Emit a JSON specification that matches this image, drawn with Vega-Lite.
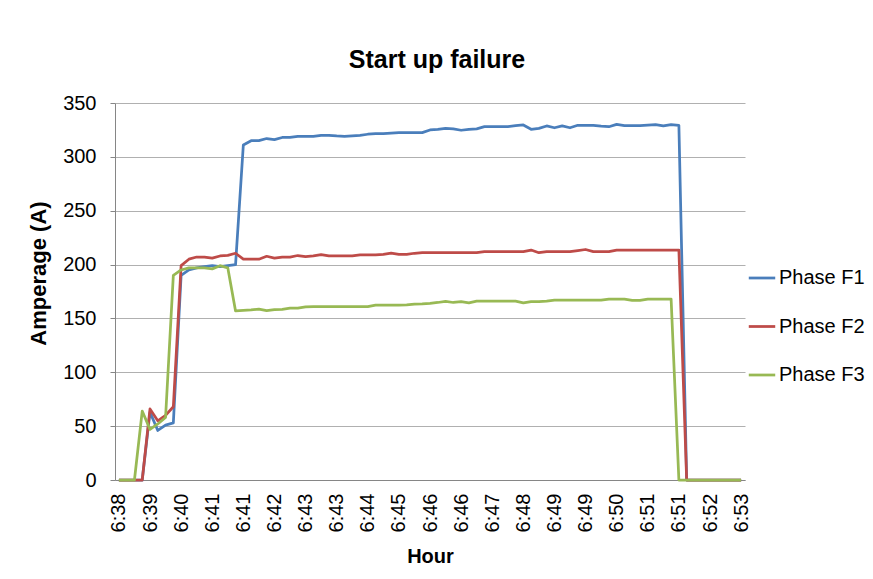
{
  "$schema": "https://vega.github.io/schema/vega-lite/v6.json",
  "autosize": "none",
  "width": 630,
  "height": 377,
  "padding": {"left": 115, "top": 103, "right": 128, "bottom": 99},
  "background": "white",
  "title": {"text": "Start up failure", "fontSize": 25, "font": "Liberation Sans", "fontWeight": "bold", "color": "black", "offset": 20, "dx": 7},
  "config": {
    "view": {"stroke": null},
    "font": "Liberation Sans",
    "axis": {"labelFont": "Liberation Sans", "titleFont": "Liberation Sans", "labelColor": "black", "titleColor": "black", "domainColor": "#868686", "tickColor": "#868686", "gridColor": "#b0b0b0"}
  },
  "data": {"values": [
    {"i": 0, "Phase F1": 0, "Phase F2": 0, "Phase F3": 0},
    {"i": 1, "Phase F1": 0, "Phase F2": 0, "Phase F3": 0},
    {"i": 2, "Phase F1": 0, "Phase F2": 0, "Phase F3": 0},
    {"i": 3, "Phase F1": 0, "Phase F2": 0, "Phase F3": 64},
    {"i": 4, "Phase F1": 63, "Phase F2": 66, "Phase F3": 47},
    {"i": 5, "Phase F1": 46, "Phase F2": 55, "Phase F3": 52},
    {"i": 6, "Phase F1": 51, "Phase F2": 60, "Phase F3": 58},
    {"i": 7, "Phase F1": 53, "Phase F2": 68, "Phase F3": 190},
    {"i": 8, "Phase F1": 190, "Phase F2": 199, "Phase F3": 195},
    {"i": 9, "Phase F1": 195, "Phase F2": 205, "Phase F3": 197},
    {"i": 10, "Phase F1": 197, "Phase F2": 207, "Phase F3": 197},
    {"i": 11, "Phase F1": 198, "Phase F2": 207, "Phase F3": 197},
    {"i": 12, "Phase F1": 199, "Phase F2": 206, "Phase F3": 196},
    {"i": 13, "Phase F1": 198, "Phase F2": 208, "Phase F3": 199},
    {"i": 14, "Phase F1": 199, "Phase F2": 208.5, "Phase F3": 197},
    {"i": 15, "Phase F1": 200, "Phase F2": 210.5, "Phase F3": 157},
    {"i": 16, "Phase F1": 311, "Phase F2": 205, "Phase F3": 157.5},
    {"i": 17, "Phase F1": 315, "Phase F2": 205, "Phase F3": 158},
    {"i": 18, "Phase F1": 315, "Phase F2": 205, "Phase F3": 158.7},
    {"i": 19, "Phase F1": 317, "Phase F2": 207.7, "Phase F3": 157.2},
    {"i": 20, "Phase F1": 316, "Phase F2": 206, "Phase F3": 158.2},
    {"i": 21, "Phase F1": 318, "Phase F2": 207, "Phase F3": 158.5},
    {"i": 22, "Phase F1": 318, "Phase F2": 207, "Phase F3": 159.6},
    {"i": 23, "Phase F1": 319, "Phase F2": 208.4, "Phase F3": 159.6},
    {"i": 24, "Phase F1": 319, "Phase F2": 207.3, "Phase F3": 160.8},
    {"i": 25, "Phase F1": 319, "Phase F2": 208, "Phase F3": 161},
    {"i": 26, "Phase F1": 320, "Phase F2": 209.3, "Phase F3": 161},
    {"i": 27, "Phase F1": 320, "Phase F2": 208, "Phase F3": 161},
    {"i": 28, "Phase F1": 319.4, "Phase F2": 208, "Phase F3": 161},
    {"i": 29, "Phase F1": 319, "Phase F2": 208, "Phase F3": 161},
    {"i": 30, "Phase F1": 319.5, "Phase F2": 208, "Phase F3": 161},
    {"i": 31, "Phase F1": 320, "Phase F2": 209, "Phase F3": 161},
    {"i": 32, "Phase F1": 321, "Phase F2": 209, "Phase F3": 161},
    {"i": 33, "Phase F1": 321.5, "Phase F2": 209, "Phase F3": 162.3},
    {"i": 34, "Phase F1": 321.5, "Phase F2": 209.5, "Phase F3": 162.3},
    {"i": 35, "Phase F1": 322, "Phase F2": 210.6, "Phase F3": 162.3},
    {"i": 36, "Phase F1": 322.5, "Phase F2": 209.5, "Phase F3": 162.3},
    {"i": 37, "Phase F1": 322.5, "Phase F2": 209.5, "Phase F3": 162.5},
    {"i": 38, "Phase F1": 322.5, "Phase F2": 210.5, "Phase F3": 163.2},
    {"i": 39, "Phase F1": 322.5, "Phase F2": 211, "Phase F3": 163.5},
    {"i": 40, "Phase F1": 325, "Phase F2": 211, "Phase F3": 164},
    {"i": 41, "Phase F1": 325.5, "Phase F2": 211, "Phase F3": 164.8},
    {"i": 42, "Phase F1": 326.5, "Phase F2": 211, "Phase F3": 165.8},
    {"i": 43, "Phase F1": 326, "Phase F2": 211, "Phase F3": 164.8},
    {"i": 44, "Phase F1": 324.7, "Phase F2": 211, "Phase F3": 165.5},
    {"i": 45, "Phase F1": 325.5, "Phase F2": 211, "Phase F3": 164.5},
    {"i": 46, "Phase F1": 326, "Phase F2": 211, "Phase F3": 166},
    {"i": 47, "Phase F1": 328, "Phase F2": 212, "Phase F3": 166},
    {"i": 48, "Phase F1": 328, "Phase F2": 212, "Phase F3": 166},
    {"i": 49, "Phase F1": 328, "Phase F2": 212, "Phase F3": 166},
    {"i": 50, "Phase F1": 328, "Phase F2": 212, "Phase F3": 166},
    {"i": 51, "Phase F1": 329, "Phase F2": 212, "Phase F3": 166},
    {"i": 52, "Phase F1": 329.6, "Phase F2": 212, "Phase F3": 164.5},
    {"i": 53, "Phase F1": 325.6, "Phase F2": 213.5, "Phase F3": 165.5},
    {"i": 54, "Phase F1": 326.5, "Phase F2": 211, "Phase F3": 165.5},
    {"i": 55, "Phase F1": 328.7, "Phase F2": 212, "Phase F3": 166},
    {"i": 56, "Phase F1": 327, "Phase F2": 212, "Phase F3": 167},
    {"i": 57, "Phase F1": 328.7, "Phase F2": 212, "Phase F3": 167},
    {"i": 58, "Phase F1": 327, "Phase F2": 212, "Phase F3": 167},
    {"i": 59, "Phase F1": 329.3, "Phase F2": 213, "Phase F3": 167},
    {"i": 60, "Phase F1": 329.3, "Phase F2": 214, "Phase F3": 167},
    {"i": 61, "Phase F1": 329.3, "Phase F2": 212, "Phase F3": 167},
    {"i": 62, "Phase F1": 328.5, "Phase F2": 212, "Phase F3": 167},
    {"i": 63, "Phase F1": 328, "Phase F2": 212, "Phase F3": 168},
    {"i": 64, "Phase F1": 330.2, "Phase F2": 213.5, "Phase F3": 168},
    {"i": 65, "Phase F1": 329, "Phase F2": 213.5, "Phase F3": 168},
    {"i": 66, "Phase F1": 329, "Phase F2": 213.5, "Phase F3": 166.8},
    {"i": 67, "Phase F1": 329, "Phase F2": 213.5, "Phase F3": 166.8},
    {"i": 68, "Phase F1": 329.5, "Phase F2": 213.5, "Phase F3": 168},
    {"i": 69, "Phase F1": 330, "Phase F2": 213.5, "Phase F3": 168},
    {"i": 70, "Phase F1": 328.7, "Phase F2": 213.5, "Phase F3": 168},
    {"i": 71, "Phase F1": 330, "Phase F2": 213.5, "Phase F3": 168},
    {"i": 72, "Phase F1": 329.3, "Phase F2": 213.5, "Phase F3": 0},
    {"i": 73, "Phase F1": 0, "Phase F2": 0, "Phase F3": 0},
    {"i": 74, "Phase F1": 0, "Phase F2": 0, "Phase F3": 0},
    {"i": 75, "Phase F1": 0, "Phase F2": 0, "Phase F3": 0},
    {"i": 76, "Phase F1": 0, "Phase F2": 0, "Phase F3": 0},
    {"i": 77, "Phase F1": 0, "Phase F2": 0, "Phase F3": 0},
    {"i": 78, "Phase F1": 0, "Phase F2": 0, "Phase F3": 0},
    {"i": 79, "Phase F1": 0, "Phase F2": 0, "Phase F3": 0},
    {"i": 80, "Phase F1": 0, "Phase F2": 0, "Phase F3": 0}
  ]},
  "transform": [{"fold": ["Phase F1", "Phase F2", "Phase F3"], "as": ["series", "amps"]}],
  "mark": {"type": "line", "strokeWidth": 2.75, "strokeJoin": "round"},
  "encoding": {
    "x": {
      "field": "i", "type": "quantitative",
      "scale": {"domain": [-0.5, 80.5], "nice": false, "zero": false},
      "axis": {
        "title": "Hour", "titleFontSize": 20, "titleFontWeight": "bold", "titlePadding": 15,
        "values": [0, 4, 8, 12, 16, 20, 24, 28, 32, 36, 40, 44, 48, 52, 56, 60, 64, 68, 72, 76, 80],
        "labelExpr": "['6:38','6:39','6:40','6:41','6:41','6:42','6:43','6:43','6:44','6:45','6:46','6:46','6:47','6:48','6:49','6:49','6:50','6:51','6:51','6:52','6:53'][round(datum.value / 4)]",
        "labelAngle": -90, "labelAlign": "right", "labelBaseline": "middle", "labelFontSize": 20, "labelPadding": 13,
        "ticks": false, "grid": false, "labelFlush": false, "labelOverlap": false
      }
    },
    "y": {
      "field": "amps", "type": "quantitative",
      "scale": {"domain": [0, 350], "nice": false},
      "axis": {
        "title": "Amperage (A)", "titleFontSize": 22, "titleFontWeight": "bold", "titlePadding": 12, "titleY": 170,
        "values": [0, 50, 100, 150, 200, 250, 300, 350],
        "labelFontSize": 20, "labelPadding": 14, "tickSize": 5, "grid": true
      }
    },
    "color": {
      "field": "series", "type": "nominal",
      "scale": {"domain": ["Phase F1", "Phase F2", "Phase F3"], "range": ["#4A7EBB", "#BE4B48", "#98B954"]},
      "legend": {
        "title": null, "orient": "none", "legendX": 632, "legendY": 160,
        "symbolType": "stroke", "symbolSize": 700, "symbolStrokeWidth": 2.75,
        "labelFontSize": 20, "labelFont": "Liberation Sans", "labelColor": "black", "labelOffset": 2, "rowPadding": 23.5
      }
    }
  }
}
